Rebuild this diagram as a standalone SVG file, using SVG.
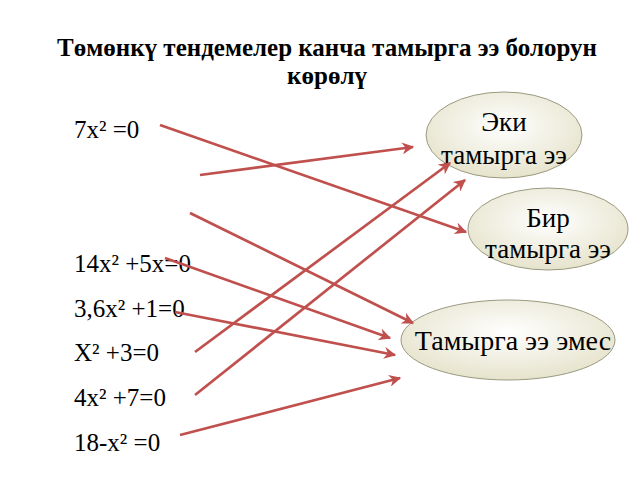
<svg xmlns="http://www.w3.org/2000/svg" width="640" height="480" viewBox="0 0 640 480">
<defs>
<radialGradient id="g" cx="0.5" cy="0.4" r="0.6"><stop offset="0" stop-color="#ffffff"/><stop offset="1" stop-color="#e6e3cc"/></radialGradient>
<marker id="a" viewBox="0 0 10 10" refX="9" refY="5" markerWidth="4.5" markerHeight="4.5" orient="auto"><path d="M0,0 L10,5 L0,10 L3,5 Z" fill="#c0504d"/></marker>
</defs>
<style>
text{font-family:"Liberation Serif",serif;fill:#000}
.n ellipse{fill:url(#g);stroke:#9a9a80;stroke-width:1}
.n text{text-anchor:middle}
#c line{stroke:#c0504d;stroke-width:2.7;marker-end:url(#a)}
</style>
<rect width="640" height="480" fill="#fff"/>
<text x="327" y="56" font-size="25" font-weight="bold" text-anchor="middle">Төмөнкү тендемелер канча тамырга ээ болорун</text>
<text x="327" y="84" font-size="25" font-weight="bold" text-anchor="middle">көрөлү</text>
<g>
<text x="74" y="138" font-size="25">7x² =0</text>
<text x="74" y="272" font-size="25">14x² +5x=0</text>
<text x="74" y="317" font-size="25">3,6x² +1=0</text>
<text x="74" y="361" font-size="25">X² +3=0</text>
<text x="74" y="406" font-size="25">4x² +7=0</text>
<text x="74" y="451" font-size="25">18-x² =0</text>
</g>
<g id="n1" class="n"><ellipse cx="504" cy="135" rx="78" ry="43"/><text x="504" y="131" font-size="27">Эки</text><text x="504" y="164" font-size="27">тамырга ээ</text></g>
<g id="n2" class="n"><ellipse cx="548" cy="229" rx="80" ry="41"/><text x="548" y="227" font-size="27">Бир</text><text x="548" y="258" font-size="27">тамырга ээ</text></g>
<g id="n3" class="n"><ellipse cx="508" cy="340" rx="107" ry="40"/><text x="513" y="350" font-size="28">Тамырга ээ эмес</text></g>
<g id="c">
<line x1="160" y1="125" x2="466" y2="232"/>
<line x1="200" y1="175" x2="413" y2="147"/>
<line x1="190" y1="213" x2="413" y2="323"/>
<line x1="165" y1="258" x2="390" y2="338"/>
<line x1="175" y1="312" x2="395" y2="355"/>
<line x1="195" y1="352" x2="450" y2="163"/>
<line x1="195" y1="395" x2="465" y2="180"/>
<line x1="180" y1="435" x2="400" y2="378"/>
</g>
</svg>
